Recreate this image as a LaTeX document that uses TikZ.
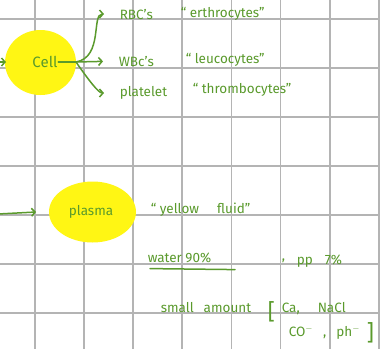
\documentclass[tikz,border=0pt]{standalone}
\usepackage{fontspec}
\setmainfont{Fira Sans}
\usetikzlibrary{arrows.meta}
\definecolor{ink}{HTML}{5A9A2C}
\definecolor{marker}{HTML}{FFF614}
\definecolor{gridgrey}{HTML}{B4B4B4}

\begin{document}
\begin{tikzpicture}[x=1pt,y=-1pt,line width=1.5pt,>={Straight Barb[length=3.5pt,width=8pt]},
  note/.style={text=ink,font=\fontsize{13.5}{15}\selectfont,inner sep=0pt,anchor=west},
  brace/.style={note,font=\fontsize{22}{24}\selectfont},
  branch/.style={draw=ink,->,line cap=round,shorten >=15pt}]
  \useasboundingbox (0,0) rectangle (388,349);
  \fill[white] (0,0) rectangle (388,349);
  % grid paper
  \foreach \i in {0,...,7} \draw[gridgrey,line width=1.8pt] (35+49.1*\i,0)--(35+49.1*\i,349);
  \foreach \j in {0,...,6} \draw[gridgrey,line width=1.3pt] (0,19+49*\j)--(378.7,19+49*\j);
  % highlighted words
  \fill[marker] (40.5,62.5) ellipse (35.5 and 32.5);
  \fill[marker] (92.5,212) ellipse (43.5 and 30.5);
  \node[note,anchor=center,font=\fontsize{15}{17}\selectfont] (cell) at (45,62) {Cell};
  \node[note,anchor=center] (plasma) at (91,212) {plasma};
  % types of cells
  \node[note] (rbc) at (119,14) {RBC's};
  \node[note] at (180,14) {“ erthrocytes”};
  \node[note] (wbc) at (118,61) {WBc's};
  \node[note] at (185,60) {“ leucocytes”};
  \node[note] (platelet) at (119,93) {platelet};
  \node[note] at (192,90) {“ thrombocytes”};
  \coordinate (fork) at (76,62);
  \draw[ink,line cap=round] (cell.east) -- (fork);
  \draw[branch] (fork) to[out=10,in=180,looseness=1.1] (rbc.west);
  \draw[branch] (fork) -- (wbc.west);
  \draw[branch] (fork) to[out=-55,in=180] (platelet.west);
  % incoming arrows
  \coordinate (from1) at (-2,62);
  \coordinate (from2) at (-2,214);
  \draw[ink,->] (from1) -- (cell.west -| 6,0);
  \draw[ink,->] (from2) -- (plasma.west -| 36,0);
  % plasma contents
  \node[note] at (150,210) {“ yellow\hspace{18pt}fluid”};
  \node[note] (water) at (147,258) {water 90\%};
  \draw[ink,line cap=round] (water.base west) ++(3,6) -- ++(85,1);
  \node[note] at (281,261) {,};
  \node[note] at (296,261) {pp\hspace{12pt}7\%};
  \node[note] at (160,308) {small\hspace{10pt}amount};
  \node[brace] at (267,312) {[};
  \node[note] at (281,309) {Ca,\hspace{18pt}NaCl};
  \node[note] at (288,333) {CO$^-$\hspace{10pt},\hspace{10pt}ph$^-$};
  \node[brace] at (366,333) {]};
\end{tikzpicture}
\end{document}
